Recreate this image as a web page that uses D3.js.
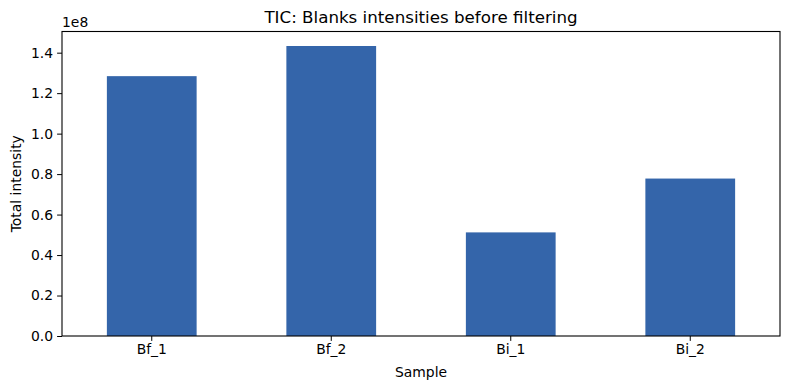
<!DOCTYPE html>
<html>
<head>
<meta charset="utf-8">
<script src="https://cdn.jsdelivr.net/npm/d3@7"></script>
<style>
  body { margin: 0; background: #fff; }
  text { font-family: "DejaVu Sans", sans-serif; fill: #000; }
</style>
</head>
<body>
<svg id="chart" width="790" height="390"></svg>
<script>
const samples = ["Bf_1", "Bf_2", "Bi_1", "Bi_2"];
const intensities = [1.284e8, 1.433e8, 0.512e8, 0.778e8];
const yTicks = [0, 0.2e8, 0.4e8, 0.6e8, 0.8e8, 1.0e8, 1.2e8, 1.4e8];

let svg = d3.select("#chart");
let margin = { top: 31.5, right: 10, bottom: 54, left: 62 };
let width = 790 - margin.left - margin.right;
let height = 390 - margin.top - margin.bottom;

let g = svg.append("g")
  .attr("transform", "translate(" + margin.left + "," + margin.top + ")");

let x = d3.scaleBand()
  .domain(samples)
  .range([0, width])
  .paddingInner(0.5)
  .paddingOuter(0.25);

// matplotlib leaves 5% headroom over the tallest bar
let y = d3.scaleLinear()
  .domain([0, d3.max(intensities) * 1.05])
  .range([height, 0]);

g.selectAll(".bar")
  .data(samples)
  .enter()
  .append("rect")
  .attr("x", (d) => x(d))
  .attr("y", (d, i) => y(intensities[i]))
  .attr("width", x.bandwidth())
  .attr("height", (d, i) => height - y(intensities[i]))
  .attr("fill", "#3465aa");

// axes
let xAxis = g.append("g")
  .attr("transform", "translate(0," + height + ")")
  .call(d3.axisBottom(x).tickSize(4.9).tickPadding(3.5).tickSizeOuter(0));
let yAxis = g.append("g")
  .call(d3.axisLeft(y).tickValues(yTicks).tickSize(4.9).tickPadding(4)
    .tickFormat((d) => (d / 1e8).toFixed(1)).tickSizeOuter(0));

[xAxis, yAxis].forEach((a) => {
  a.select(".domain").remove();
  a.selectAll("line").attr("stroke", "#000").attr("stroke-width", 1);
  a.selectAll("text").style("font-size", "13.9px").attr("fill", "#000");
});

// frame
g.append("rect")
  .attr("width", width)
  .attr("height", height)
  .attr("fill", "none")
  .attr("stroke", "#000")
  .attr("stroke-width", 1.1);

// offset text, title, labels
g.append("text")
  .attr("x", 0)
  .attr("y", -4.8)
  .style("font-size", "13.9px")
  .text("1e8");

svg.append("text")
  .attr("x", margin.left + width / 2)
  .attr("y", 23)
  .attr("text-anchor", "middle")
  .style("font-size", "16.7px")
  .text("TIC: Blanks intensities before filtering");

svg.append("text")
  .attr("x", margin.left + width / 2)
  .attr("y", 377)
  .attr("text-anchor", "middle")
  .style("font-size", "13.9px")
  .text("Sample");

svg.append("text")
  .attr("transform", "translate(21," + (margin.top + height / 2) + ") rotate(-90)")
  .attr("text-anchor", "middle")
  .style("font-size", "13.9px")
  .text("Total intensity");
</script>
</body>
</html>
